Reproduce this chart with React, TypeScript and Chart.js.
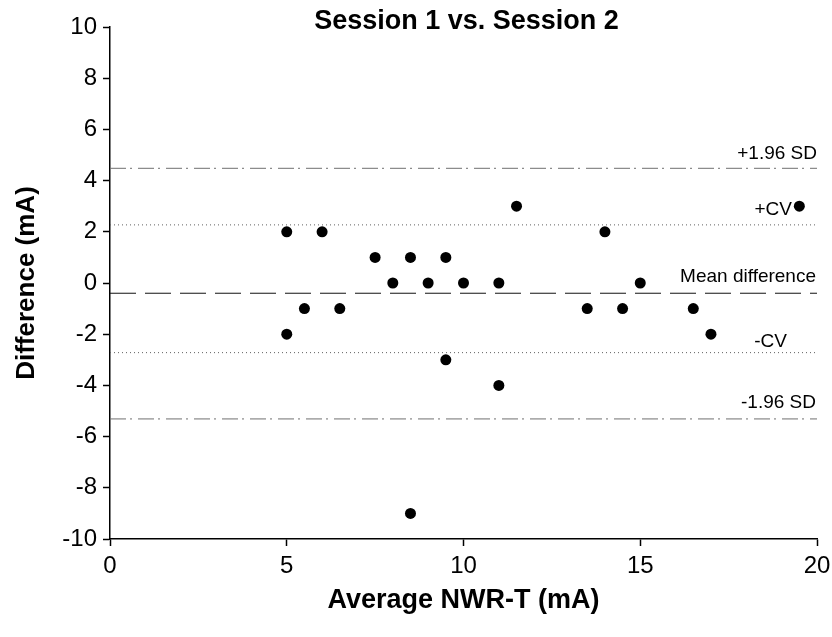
import React, { useEffect, useRef } from "react";
import { Chart, registerables } from "chart.js";

Chart.register(...registerables);

const chartTitle = "Session 1 vs. Session 2";
const xTitle = "Average NWR-T (mA)";
const yTitle = "Difference (mA)";

// Scatter data: average (x) vs difference (y)
const avgValues = [5, 5, 5.5, 6, 6.5, 7.5, 8, 8.5, 8.5, 9, 9.5, 9.5, 10, 11, 11, 11.5, 13.5, 14, 14.5, 15, 16.5, 17, 19.5];
const diffValues = [2, -2, -1, 2, -1, 1, 0, 1, -9, 0, 1, -3, 0, 0, -4, 3, -1, 2, -1, 0, -1, -2, 3];

// Reference lines
const refLabels = ["+1.96 SD", "+CV", "Mean difference", "-CV", "-1.96 SD"];
const refValues = [4.48, 2.27, -0.4, -2.72, -5.31];

const xMin = 0;
const xMax = 20;
const yMin = -10;
const yMax = 10;

const FONT = "'Liberation Sans', Arial, Helvetica, sans-serif";

export default function App() {
  const ref = useRef<HTMLCanvasElement | null>(null);

  useEffect(() => {
    if (!ref.current) return;
    Chart.defaults.font.family = FONT;

    const lineStyles = [
      { color: "#707070", dash: [16, 4, 2, 6] },
      { color: "#606060", dash: [1, 3] },
      { color: "#111111", dash: [26, 9] },
      { color: "#606060", dash: [1, 3] },
      { color: "#707070", dash: [16, 4, 2, 6] },
    ];
    const labelStyle = [
      { inset: 0, dy: -15 },
      { inset: 25, dy: -15 },
      { inset: 1, dy: -16 },
      { inset: 30, dy: -11 },
      { inset: 1, dy: -16 },
    ];

    const refDatasets = refValues.map((v, i) => ({
      type: "line" as const,
      label: refLabels[i],
      data: [
        { x: xMin, y: v },
        { x: xMax, y: v },
      ],
      borderColor: lineStyles[i].color,
      borderWidth: 1,
      borderDash: lineStyles[i].dash,
      pointRadius: 0,
      fill: false,
      order: 2,
    }));

    const textPlugin = {
      id: "textPlugin",
      afterDraw(chart: any) {
        const { ctx, chartArea, scales } = chart;
        ctx.save();
        // main title
        ctx.fillStyle = "#000";
        ctx.font = `bold 27px ${FONT}`;
        ctx.textAlign = "center";
        ctx.textBaseline = "middle";
        ctx.fillText(chartTitle, (chartArea.left + chartArea.right) / 2 + 3, 22);
        // reference labels
        ctx.font = `19px ${FONT}`;
        ctx.textAlign = "right";
        refLabels.forEach((t, i) => {
          const y = scales.y.getPixelForValue(refValues[i]) + labelStyle[i].dy;
          ctx.fillText(t, chartArea.right - labelStyle[i].inset, y);
        });
        ctx.restore();
      },
    };

    const chart = new Chart(ref.current, {
      type: "scatter",
      data: {
        datasets: [
          {
            type: "scatter",
            label: "Differences",
            data: avgValues.map((x, i) => ({ x, y: diffValues[i] })),
            backgroundColor: "#000",
            borderColor: "#000",
            borderWidth: 0,
            pointRadius: 5.5,
            pointHoverRadius: 5.5,
            order: 1,
          },
          ...refDatasets,
        ] as any,
      },
      options: {
        responsive: false,
        animation: false,
        events: [],
        layout: { padding: { top: 27, right: 15, left: 0, bottom: 0 } },
        plugins: {
          legend: { display: false },
          tooltip: { enabled: false },
          title: { display: false },
        },
        scales: {
          x: {
            type: "linear",
            min: xMin,
            max: xMax,
            afterFit: (s: any) => {
              s.height = 98;
              s.paddingLeft = 0;
              s.paddingRight = 0;
            },
            ticks: {
              stepSize: 5,
              color: "#000",
              font: { size: 24 },
              padding: 6,
              maxRotation: 0,
            },
            grid: {
              drawOnChartArea: false,
              drawTicks: true,
              tickLength: 7,
              tickColor: "#000",
              tickWidth: 1.5,
            },
            border: { color: "#000", width: 1.5 },
            title: {
              display: true,
              text: xTitle,
              color: "#000",
              font: { size: 27, weight: "bold" },
              padding: { top: 0, bottom: 20 },
            },
          },
          y: {
            type: "linear",
            min: yMin,
            max: yMax,
            afterFit: (s: any) => {
              s.width = 110;
              s.paddingTop = 0;
              s.paddingBottom = 0;
            },
            ticks: {
              stepSize: 2,
              color: "#000",
              font: { size: 24 },
              padding: 6,
            },
            grid: {
              drawOnChartArea: false,
              drawTicks: true,
              tickLength: 7,
              tickColor: "#000",
              tickWidth: 1.5,
            },
            border: { color: "#000", width: 1.5 },
            title: {
              display: true,
              text: yTitle,
              color: "#000",
              font: { size: 26, weight: "bold" },
              padding: { top: 11, bottom: 0 },
            },
          },
        },
      },
      plugins: [textPlugin],
    } as any);

    return () => chart.destroy();
  }, []);

  return (
    <div style={{ position: "absolute", left: 0, top: 0, width: 832, height: 637, background: "#fff" }}>
      <canvas ref={ref} width={832} height={637} />
    </div>
  );
}
